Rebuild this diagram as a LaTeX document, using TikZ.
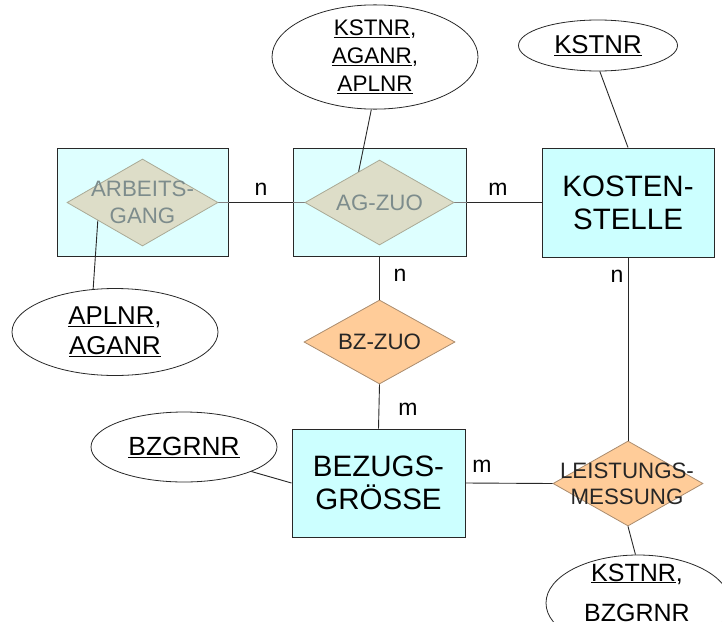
\documentclass[tikz,border=0pt]{standalone}
\usepackage{fontspec}
\setmainfont{Liberation Sans}
\usetikzlibrary{shapes.geometric}
\definecolor{ent}{RGB}{204,255,255}
\definecolor{went}{RGB}{222,255,255}
\definecolor{wdia}{RGB}{221,221,200}
\definecolor{wdraw}{RGB}{170,170,150}
\definecolor{wtxt}{RGB}{125,140,140}
\definecolor{odia}{RGB}{255,204,153}
\definecolor{odraw}{RGB}{170,140,110}
\definecolor{lin}{RGB}{40,40,40}
\newcommand{\ulk}[1]{\underline{#1}}
\begin{document}
\begin{tikzpicture}[x=1pt,y=-1pt,
  entbox/.style={draw=lin, fill=ent, line width=1pt, inner sep=0pt, align=center,
    font=\fontsize{29.5}{33}\selectfont},
  wbox/.style={draw=lin, fill=went, line width=1pt, inner sep=0pt},
  wdiam/.style={diamond, draw=wdraw, fill=wdia, line width=0.8pt, inner sep=0pt, aspect=1.7},
  odiam/.style={diamond, draw=odraw, fill=odia, line width=0.8pt, inner sep=0pt, aspect=1.7},
  wtext/.style={text=wtxt, align=center, inner sep=0pt, font=\fontsize{22.3}{26.5}\selectfont},
  otext/.style={text=black!85, align=center, inner sep=0pt, font=\fontsize{22.3}{26}\selectfont},
  attr/.style={ellipse, draw=lin, fill=white, line width=0.8pt, inner sep=0pt, align=center,
    font=\fontsize{25.8}{30}\selectfont},
  card/.style={anchor=base, inner sep=0pt, font=\fontsize{23}{26}\selectfont},
  conn/.style={draw=lin, line width=0.9pt},
  inconn/.style={draw=gray, line width=0.9pt}]
\useasboundingbox (0,0) rectangle (722,621);
\clip (0,0) rectangle (722,621);
\fill[white] (0,0) rectangle (722,621);

% weak entity boxes with diamonds
\node[wbox, minimum width=171pt, minimum height=108pt] (abbox) at (142.5,202) {};
\node[wbox, minimum width=173pt, minimum height=108pt] (agbox) at (379.5,202) {};
\draw[inconn] (142.5,202.5) -- (abbox.east |- 142.5,202.5);
\draw[inconn] (agbox.west |- 379.5,202.5) -- (agbox.east |- 379.5,202.5);
\node[wdiam, minimum width=151pt, minimum height=87pt] (ab) at (142.5,202.5) {};
\node[wtext] (abt) at (142.5,202.5) {ARBEITS-\\GANG};
\node[wdiam, minimum width=149pt, minimum height=85pt] (ag) at (379.5,202.5) {};
\node[wtext] (agt) at (379.5,202.5) {AG-ZUO};

% entities
\node[entbox, minimum width=172pt, minimum height=109pt] (kst) at (628,202.5) {KOSTEN-\\STELLE};
\node[entbox, minimum width=173pt, minimum height=108pt] (bez) at (378.5,483) {BEZUGS-\\GRÖSSE};

% relationships
\node[odiam, minimum width=151pt, minimum height=84pt] (bz) at (379.5,342) {};
\node[otext] (bzt) at (379.5,342) {BZ-ZUO};
\node[odiam, minimum width=150pt, minimum height=85pt] (lm) at (628,483.5) {};
\node[otext] (lmt) at (627,484) {LEISTUNGS-\\MESSUNG};

% attributes
\node[attr, minimum width=206pt, minimum height=87pt] (a1) at (115,332) {\ulk{APLNR},\\\ulk{AGANR}};
\node[attr, minimum width=206pt, minimum height=98pt, font=\fontsize{22.5}{28}\selectfont] (a2) at (375,57) {\ulk{KSTNR},\\\ulk{AGANR},\\\ulk{APLNR}};
\node[attr, minimum width=159pt, minimum height=51pt] (a3) at (598,45.5) {\ulk{KSTNR}};
\node[attr, minimum width=186pt, minimum height=70pt, font=\fontsize{26.3}{30}\selectfont] (a4) at (184,447) {\ulk{BZGRNR}};
\node[attr, minimum width=184pt, minimum height=96pt] (a5) at (638,603) {};
\node[anchor=base, inner sep=0pt, font=\fontsize{25}{30}\selectfont] (a5t1) at (637,581) {\ulk{KSTNR},};
\node[anchor=base, inner sep=0pt, font=\fontsize{25}{30}\selectfont] (a5t2) at (637,621) {\ulk{BZGRNR}};

% connectors
\draw[conn] (abbox.east |- ab.east) -- (agbox.west |- ag.west);
\draw[conn] (agbox.east |- ag.east) -- (kst.west);
\draw[conn] (agbox.south) -- (bz.north);
\draw[conn] (bz.south) -- (bez.north);
\draw[conn] (bez.east) -- (lm.west);
\draw[conn] (kst.south) -- (lm.north);
\draw[conn] (a1.117) -- (ab.202);
\draw[conn] (a2.266) -- (ag.124);
\draw[conn] (a3.274) -- (kst.north);
\draw[conn] (a4.340) -- (bez.west);
\draw[conn] (a5.93) -- (lm.south);

% cardinalities
\node[card] (c1) at (261,195) {n};
\node[card] (c2) at (498,195) {m};
\node[card] (c3) at (400,281) {n};
\node[card] (c4) at (408,415) {m};
\node[card] (c5) at (617,282) {n};
\node[card] (c6) at (482,472) {m};
\end{tikzpicture}
\end{document}
